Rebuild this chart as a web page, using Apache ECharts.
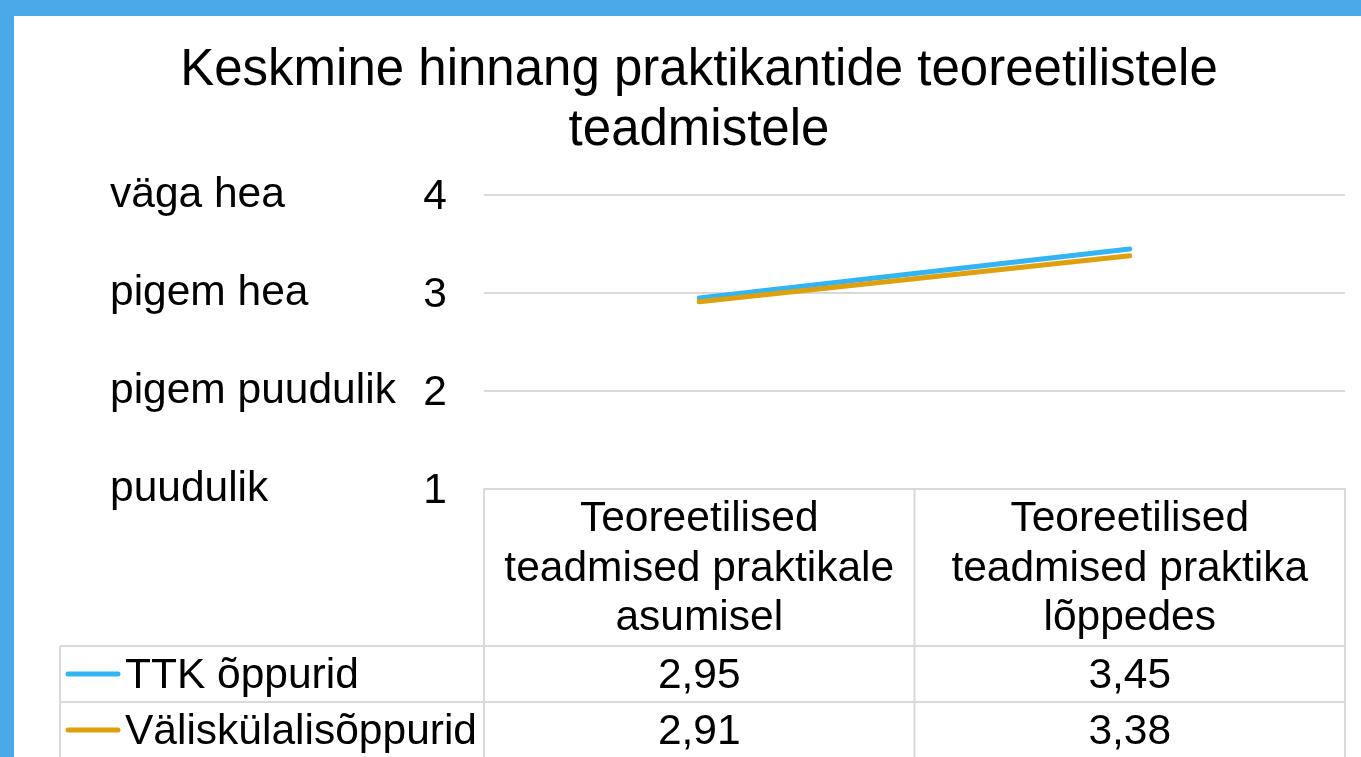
<!DOCTYPE html>
<html>
<head>
<meta charset="utf-8">
<script src="https://cdn.jsdelivr.net/npm/echarts@6/dist/echarts.min.js"></script>
<style>
  html, body { margin: 0; padding: 0; background: #fff; }
  #chart { width: 1361px; height: 757px; }
</style>
</head>
<body>
<div id="chart"></div>
<script>
// andmed
const categories = [
  'Teoreetilised\nteadmised praktikale\nasumisel',
  'Teoreetilised\nteadmised praktika\nlõppedes'
]
const seriesNames = ['TTK õppurid', 'Väliskülalisõppurid']
const ttkValues = [2.95, 3.45]
const valisValues = [2.91, 3.38]
const seriesColors = ['#33B4F4', '#DEA00C']
const yTicks = [1, 2, 3, 4]
const yNames = ['puudulik', 'pigem puudulik', 'pigem hea', 'väga hea']

const FONT = '"Liberation Sans", Arial, sans-serif'
const FS = 42.5
const gridColor = '#D9D9D9'
const frameColor = '#4BA9E8'

const chart = echarts.init(document.getElementById('chart'))

const option = {
  backgroundColor: '#fff',
  animation: false,
  textStyle: { fontFamily: FONT },
  title: {
    text: 'Keskmine hinnang praktikantide teoreetilistele\nteadmistele',
    left: 694,
    top: 36,
    textAlign: 'center',
    textStyle: {
      fontFamily: FONT,
      fontSize: 51,
      fontWeight: 'normal',
      color: '#000',
      lineHeight: 60,
    },
  },
  grid: {
    left: 484,
    right: 16,
    top: 195,
    bottom: 268,
    containLabel: false,
    outerBoundsMode: 'none',
  },
  xAxis: {
    type: 'category',
    data: categories,
    boundaryGap: true,
    axisLine: { show: true, lineStyle: { color: gridColor, width: 2 } },
    axisTick: { show: false },
    axisLabel: {
      interval: 0,
      margin: 6,
      fontFamily: FONT,
      fontSize: FS,
      lineHeight: 49.5,
      color: '#000',
      align: 'center',
    },
  },
  yAxis: {
    type: 'value',
    min: 1,
    max: 4,
    interval: 1,
    axisLine: { show: false },
    axisTick: { show: false },
    splitLine: { show: true, lineStyle: { color: gridColor, width: 2 } },
    axisLabel: {
      margin: 37,
      formatter: (v) => '{t|' + yNames[yTicks.indexOf(v)] + '}{n|' + v + '}',
      rich: {
        t: { width: 313, align: 'left', fontSize: FS, fontFamily: FONT, color: '#000' },
        n: { width: 24, align: 'right', fontSize: FS, fontFamily: FONT, color: '#000', padding: [4, 0, 0, 0] },
      },
    },
  },
  series: [
    {
      name: seriesNames[0],
      type: 'line',
      data: ttkValues,
      symbol: 'none',
      lineStyle: { color: seriesColors[0], width: 5, cap: 'round' },
    },
    {
      name: seriesNames[1],
      type: 'line',
      data: valisValues,
      symbol: 'none',
      lineStyle: { color: seriesColors[1], width: 5, cap: 'round' },
    },
  ],
}

chart.setOption(option)

// andmetabel graafiku all
const drawTable = () => {
  const c0 = chart.convertToPixel({ xAxisIndex: 0 }, 0)
  const c1 = chart.convertToPixel({ xAxisIndex: 0 }, 1)
  const half = (c1 - c0) / 2
  const xLeft = c0 - half
  const xMid = c0 + half
  const xRight = c1 + half
  const yTop = chart.convertToPixel({ yAxisIndex: 0 }, 1)
  const headerH = 157
  const rowH = 56
  const yHead = yTop + headerH
  const yBottom = 760
  const legendLeft = 60
  const lineStyle = { stroke: gridColor, lineWidth: 2 }
  const els = []

  // sinine raam
  els.push({ type: 'rect', shape: { x: 0, y: 0, width: 1361, height: 16 }, style: { fill: frameColor }, z: 10 })
  els.push({ type: 'rect', shape: { x: 0, y: 0, width: 14, height: 757 }, style: { fill: frameColor }, z: 10 })

  ;[xLeft, xMid, xRight].forEach((x) => {
    els.push({ type: 'line', shape: { x1: x, y1: yTop, x2: x, y2: yBottom }, style: lineStyle })
  })
  els.push({ type: 'line', shape: { x1: legendLeft, y1: yHead, x2: legendLeft, y2: yBottom }, style: lineStyle })
  for (let i = 0; i < seriesNames.length; i++) {
    const y = yHead + i * rowH
    els.push({ type: 'line', shape: { x1: legendLeft, y1: y, x2: xRight, y2: y }, style: lineStyle })
  }

  const rows = [ttkValues, valisValues]
  rows.forEach((vals, i) => {
    const cy = yHead + i * rowH + rowH / 2
    els.push({
      type: 'line',
      shape: { x1: 68, y1: cy, x2: 118, y2: cy },
      style: { stroke: seriesColors[i], lineWidth: 5, lineCap: 'round' },
    })
    els.push({
      type: 'text',
      x: 125,
      y: cy + 2,
      style: { text: seriesNames[i], fontSize: FS, fontFamily: FONT, fill: '#000', align: 'left', verticalAlign: 'middle' },
    })
    vals.forEach((v, j) => {
      els.push({
        type: 'text',
        x: j === 0 ? c0 : c1,
        y: cy + 2,
        style: {
          text: v.toFixed(2).replace('.', ','),
          fontSize: FS,
          fontFamily: FONT,
          fill: '#000',
          align: 'center',
          verticalAlign: 'middle',
        },
      })
    })
  })

  chart.setOption({ graphic: { elements: els } })
}

drawTable()
</script>
</body>
</html>
